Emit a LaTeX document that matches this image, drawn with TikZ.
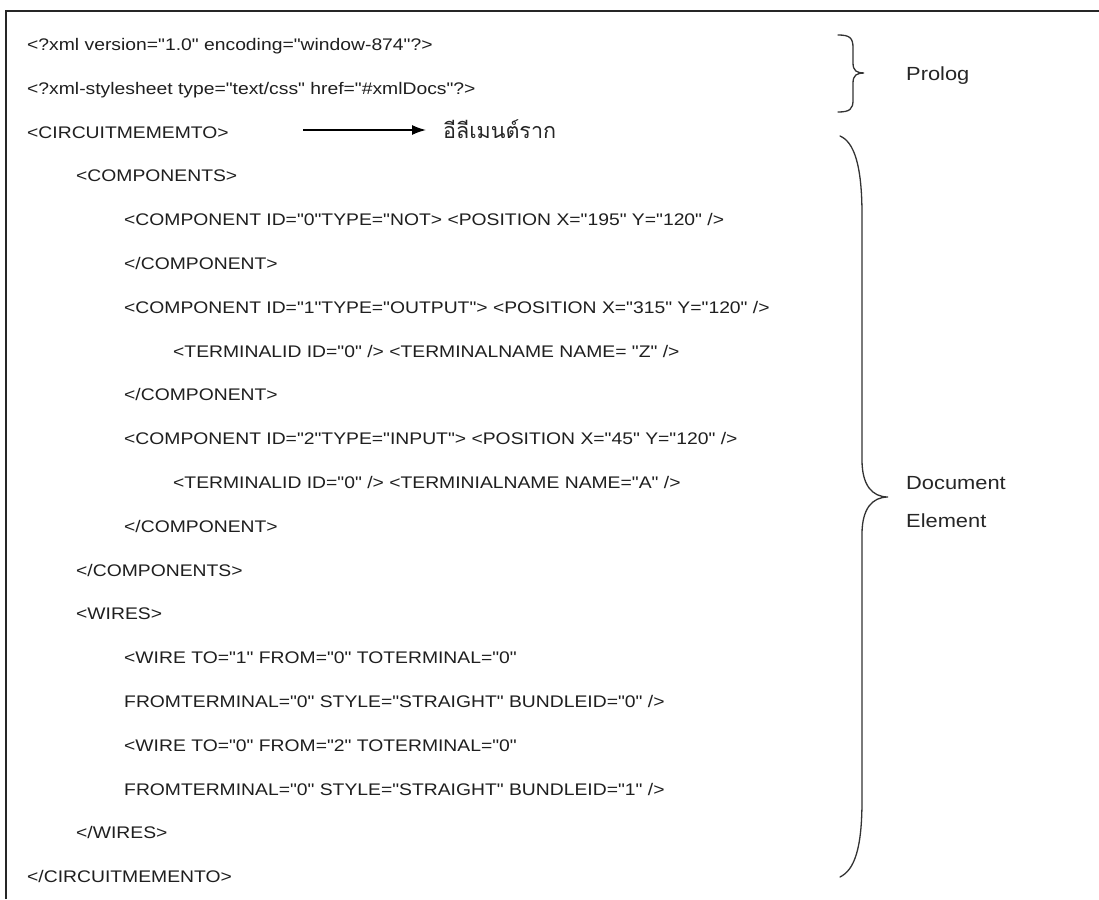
\documentclass[tikz,border=0pt]{standalone}
\usepackage{fontspec}
\setmainfont{Liberation Sans}[FakeStretch=1.15, Ligatures=TeXOff]
\newfontfamily\thaifont[Script=Thai]{Loma}
\usetikzlibrary{arrows.meta}

\begin{document}
\begin{tikzpicture}[x=1pt,y=-1pt,
  code/.style={anchor=base west, inner sep=0pt, text=black!88,
    font=\fontsize{16.8}{18}\selectfont},
  label/.style={anchor=base west, inner sep=0pt, text=black!85,
    font=\fontsize{19}{20}\selectfont},
  bracepath/.style={line width=1.3pt, draw=black!80, line cap=round},
  pointer/.style={line width=1.4pt, -{Latex[length=14pt,width=10pt]}}]

\useasboundingbox (0,0) rectangle (1099,899);
\fill[white] (0,0) rectangle (1099,899);

% page frame: top rule and left rule
\draw[line width=1.8pt, black!85] (6,899) -- (6,11) -- (1099,11);

% indentation columns and line pitch
\def\ia{27}\def\ib{76}\def\ic{124}\def\id{173}
\def\yy#1{\fpeval{50.5+(#1-1)*43.8}}

\node[code] (l1)  at (\ia,{\yy{1}})  {<?xml version="1.0" encoding="window-874"?>};
\node[code] (l2)  at (\ia,{\yy{2}})  {<?xml-stylesheet type="text/css" href="\#xmlDocs"?>};
\node[code] (l3)  at (\ia,{\yy{3}})  {<CIRCUITMEMEMTO>};
\node[code] (l4)  at (\ib,{\yy{4}})  {<COMPONENTS>};
\node[code] (l5)  at (\ic,{\yy{5}})  {<COMPONENT ID="0"TYPE="NOT> <POSITION X="195" Y="120" />};
\node[code] (l6)  at (\ic,{\yy{6}})  {</COMPONENT>};
\node[code] (l7)  at (\ic,{\yy{7}})  {<COMPONENT ID="1"TYPE="OUTPUT"> <POSITION X="315" Y="120" />};
\node[code] (l8)  at (\id,{\yy{8}})  {<TERMINALID ID="0" /> <TERMINALNAME NAME= "Z" />};
\node[code] (l9)  at (\ic,{\yy{9}})  {</COMPONENT>};
\node[code] (l10) at (\ic,{\yy{10}}) {<COMPONENT ID="2"TYPE="INPUT"> <POSITION X="45" Y="120" />};
\node[code] (l11) at (\id,{\yy{11}}) {<TERMINALID ID="0" /> <TERMINIALNAME NAME="A" />};
\node[code] (l12) at (\ic,{\yy{12}}) {</COMPONENT>};
\node[code] (l13) at (\ib,{\yy{13}}) {</COMPONENTS>};
\node[code] (l14) at (\ib,{\yy{14}}) {<WIRES>};
\node[code] (l15) at (\ic,{\yy{15}}) {<WIRE TO="1" FROM="0" TOTERMINAL="0"};
\node[code] (l16) at (\ic,{\yy{16}}) {FROMTERMINAL="0" STYLE="STRAIGHT" BUNDLEID="0" />};
\node[code] (l17) at (\ic,{\yy{17}}) {<WIRE TO="0" FROM="2" TOTERMINAL="0"};
\node[code] (l18) at (\ic,{\yy{18}}) {FROMTERMINAL="0" STYLE="STRAIGHT" BUNDLEID="1" />};
\node[code] (l19) at (\ib,{\yy{19}}) {</WIRES>};
\node[code] (l20) at (\ia,{\yy{20}}) {</CIRCUITMEMENTO>};

% root element pointer
\node[anchor=base west, inner sep=0pt, text=black!85,
  font=\thaifont\fontsize{21.5}{22}\selectfont] (root) at (443,{\yy{3}}) {อีลีเมนต์ราก};
\coordinate (astart) at (303,130);
\draw[pointer, shorten >=17pt] (astart) -- (astart -| root.west);

% prolog brace
\draw[bracepath] (838,35) .. controls (850,35) and (853,38) .. (853,48)
  -- (853,63) .. controls (853,71) and (857,73) .. (864,73)
  .. controls (857,73) and (853,75) .. (853,83)
  -- (853,100) .. controls (853,109) and (850,112) .. (838,112);
\node[label] (prolog) at (906,80) {Prolog};

% document element brace
\draw[bracepath] (840,136) .. controls (854,142) and (862,165) .. (862,215)
  -- (862,460) .. controls (862,485) and (872,497) .. (888,497)
  .. controls (872,497) and (862,509) .. (862,534)
  -- (862,800) .. controls (862,850) and (854,870) .. (840,877);
\node[label] (doc) at (906,489) {Document};
\node[label] (elem) at (906,527) {Element};

\end{tikzpicture}
\end{document}
